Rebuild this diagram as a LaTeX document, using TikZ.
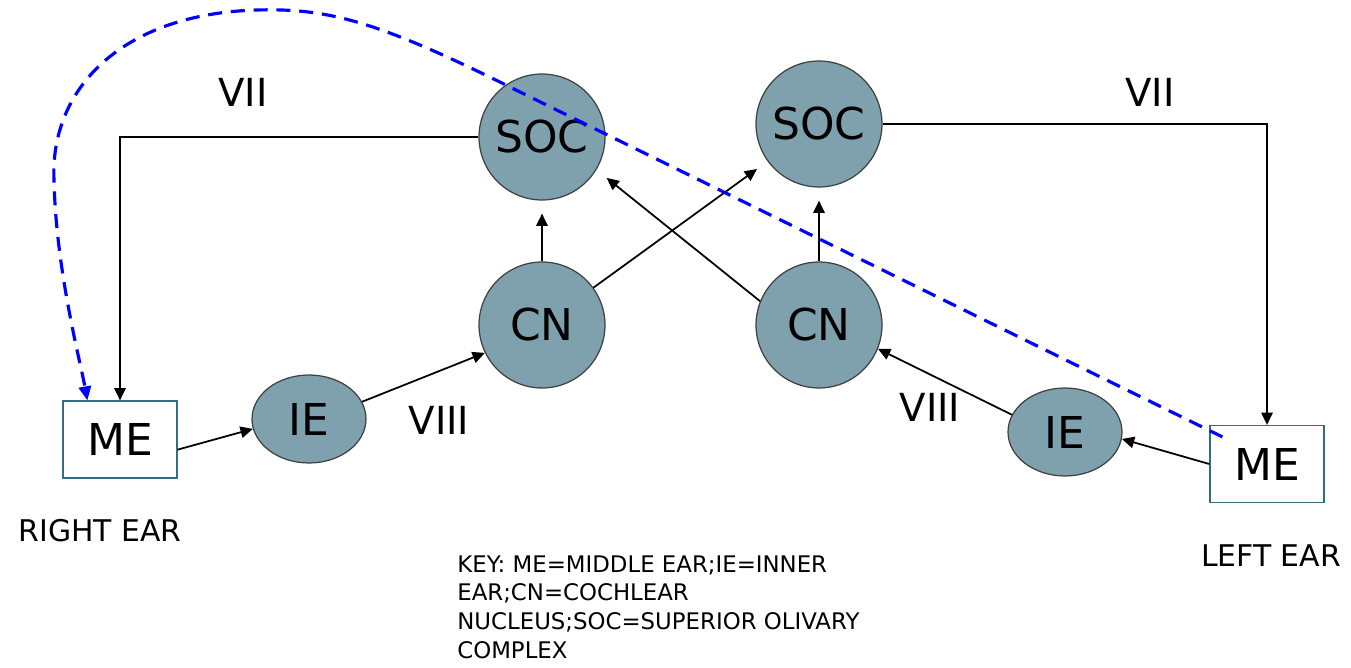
\documentclass[tikz,border=0pt]{standalone}
\usepackage{fontspec}
\setmainfont{DejaVu Sans}
\usetikzlibrary{shapes.geometric,arrows.meta}

\definecolor{nucfill}{RGB}{127,161,173}
\definecolor{nucline}{RGB}{64,64,64}
\definecolor{boxline}{RGB}{49,110,130}

\tikzset{
    nuc/.style={circle,draw=nucline,fill=nucfill,line width=0.7pt,minimum size=2.52cm,inner sep=0,font=\fontsize{25}{30}\selectfont},
    inear/.style={ellipse,draw=nucline,fill=nucfill,line width=0.7pt,minimum width=2.28cm,minimum height=1.76cm,inner sep=0,font=\fontsize{25}{30}\selectfont},
    midear/.style={rectangle,draw=boxline,fill=white,line width=0.7pt,minimum width=2.28cm,minimum height=1.54cm,inner sep=0,font=\fontsize{25}{30}\selectfont},
    nerve/.style={font=\fontsize{22}{26}\selectfont},
    side/.style={font=\fontsize{17}{20}\selectfont},
    arr/.style={draw,line width=1pt,-{Triangle[length=7pt,width=6.5pt]}},
    rise/.style={arr,shorten >=7.4pt},
    reflex/.style={draw=blue,dash pattern=on 8pt off 5pt,line width=1.8pt,-{Triangle[length=8pt,width=7pt]}}
    }

\begin{document}
\begin{tikzpicture}[x=0.02cm, y=-0.02cm]
                \useasboundingbox (0,0) rectangle (1351,668);
                % The right ear (left side)
                \node(lME)[midear] at (120,439.5) {ME};
                \node(lIE)[inear] at (309,419) {IE};
                \node(lCN)[nuc] at (542,325) {CN};
                \node(lSOC)[nuc] at (542,137) {SOC};
                % The left ear (right side)
                \node(rME)[midear] at (1267,464) {ME};
                \node(rIE)[inear] at (1065,432) {IE};
                \node(rCN)[nuc] at (819,325) {CN};
                \node(rSOC)[nuc] at (819,124) {SOC};
                % Nerve and ear labels
                \node(lVII)[nerve] at (243,92) {VII};
                \node(rVII)[nerve] at (1150,92) {VII};
                \node(lVIII)[nerve] at (439,420) {VIII};
                \node(rVIII)[nerve] at (930,407) {VIII};
                \node(lear)[side] at (100,531) {RIGHT EAR};
                \node(rear)[side] at (1271,556) {LEFT EAR};
                \node(key)[anchor=north west,inner sep=0,align=left,font=\fontsize{13}{16.4}\selectfont] at (457,555)
                    {KEY: ME=MIDDLE EAR;IE=INNER\\EAR;CN=COCHLEAR\\NUCLEUS;SOC=SUPERIOR OLIVARY\\COMPLEX};
                % The pathways
                \draw[arr] (lME.-10) -- (lIE.190);
                \draw[arr] (lIE.18) -- (lCN.206);
                \draw[rise] (lCN.north) -- (lSOC.south);
                \draw[rise] (lCN) -- (rSOC);
                \draw[arr] (rME.west) -- (rIE.-7);
                \draw[arr] (rIE.162) -- (rCN.-22);
                \draw[rise] (rCN.north) -- (rSOC.south);
                \draw[rise] (rCN.158) -- (lSOC.-31);
                \draw[arr] (lSOC.west) -| (lME.north);
                \draw[arr] (rSOC.east) -| (rME.north);
                % The crossed reflex
                \draw[reflex] ([shift={(13,12)}]rME.north west) -- (520,92)
                    .. controls (380,22) and (330,8) .. (257,10)
                    .. controls (120,14) and (50,90) .. (54,180)
                    .. controls (56,270) and (80,360) .. ([shift={(25,0)}]lME.north west);
            \end{tikzpicture}
\end{document}
